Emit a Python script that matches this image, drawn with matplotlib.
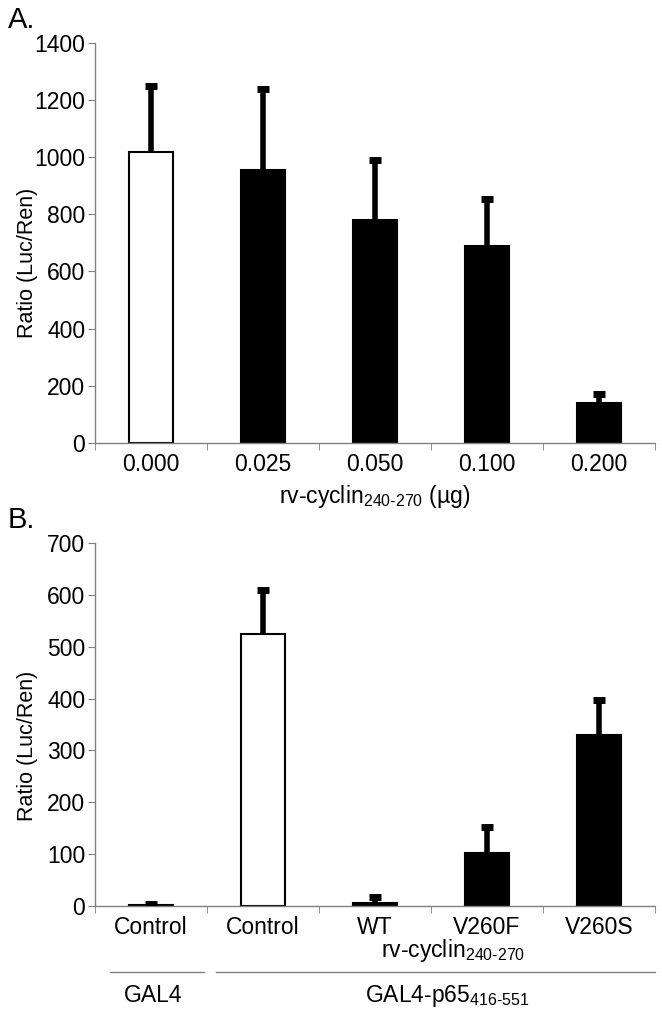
import numpy as np
import matplotlib.pyplot as plt

plt.rcParams['font.family'] = ['Liberation Sans', 'DejaVu Sans']
plt.rcParams['mathtext.fontset'] = 'custom'
plt.rcParams['mathtext.rm'] = 'Liberation Sans'
plt.rcParams['mathtext.it'] = 'Liberation Sans'

# panel A data
doses = ['0.000', '0.025', '0.050', '0.100', '0.200']
ratio_a = [1018, 955, 780, 688, 140]
err_a = [232, 282, 210, 165, 32]
fill_a = ['white', 'black', 'black', 'black', 'black']

# panel B data
groups_b = ['Control', 'Control', 'WT', 'V260F', 'V260S']
ratio_b = [2, 525, 5, 103, 330]
err_b = [1, 85, 12, 49, 68]
fill_b = ['black', 'white', 'black', 'black', 'black']

GRAY = '#808080'
FS = 16.5


def draw_panel(ax, labels, vals, errs, fills, ymax, ystep, ylab_y):
    x = np.arange(len(labels))
    vals = np.array(vals)
    errs = np.array(errs)
    ax.bar(x, vals, width=0.39, color=fills, edgecolor='black', linewidth=1.5, zorder=2)
    ax.vlines(x, vals, vals + errs, color='black', lw=4, zorder=3)
    ax.hlines(vals + errs, x - 0.055, x + 0.055, color='black', lw=5, zorder=3)
    ax.set_xlim(-0.5, len(labels) - 0.5)
    ax.set_ylim(0, ymax)
    ax.set_yticks(np.arange(0, ymax + 1, ystep))
    ax.set_xticks(x)
    ax.set_xticklabels(labels, fontsize=FS)
    ax.set_xticks(np.arange(-0.5, len(labels), 1), minor=True)
    ax.tick_params(axis='x', which='major', length=0, pad=7)
    ax.tick_params(axis='x', which='minor', length=5, color=GRAY, direction='out')
    ax.tick_params(axis='y', length=5, color=GRAY, labelsize=FS, pad=2)
    for s in ['top', 'right']:
        ax.spines[s].set_visible(False)
    for s in ['left', 'bottom']:
        ax.spines[s].set_color(GRAY)
        ax.spines[s].set_linewidth(1)
    ax.set_ylabel('Ratio (Luc/Ren)', fontsize=15.5)
    ax.yaxis.set_label_coords(-0.102, ylab_y)


fig = plt.figure(figsize=(6.62, 10.13), dpi=100)

ax1 = fig.add_axes([0.1435, 0.5627, 0.846, 0.395])
draw_panel(ax1, doses, ratio_a, err_a, fill_a, 1400, 200, 0.45)
ax1.set_xlabel(r'rv-cyclin$_{\text{240-270}}$ (µg)', fontsize=FS, labelpad=5)

ax2 = fig.add_axes([0.1435, 0.1056, 0.846, 0.3584])
draw_panel(ax2, groups_b, ratio_b, err_b, fill_b, 700, 100, 0.44)

fig.text(0.012, 0.98, 'A.', fontsize=21, va='center')
fig.text(0.012, 0.487, 'B.', fontsize=21, va='center')

fig.text(0.684, 0.0615, r'rv-cyclin$_{\text{240-270}}$', fontsize=FS, ha='center', va='center')
fig.add_artist(plt.Line2D([0.166, 0.308], [0.0405, 0.0405], color=GRAY, lw=1))
fig.add_artist(plt.Line2D([0.326, 0.99], [0.0405, 0.0405], color=GRAY, lw=1))
fig.text(0.231, 0.017, 'GAL4', fontsize=FS, ha='center', va='center')
fig.text(0.675, 0.017, r'GAL4-p65$_{\text{416-551}}$', fontsize=FS, ha='center', va='center')

fig.savefig('out.png', dpi=100)
